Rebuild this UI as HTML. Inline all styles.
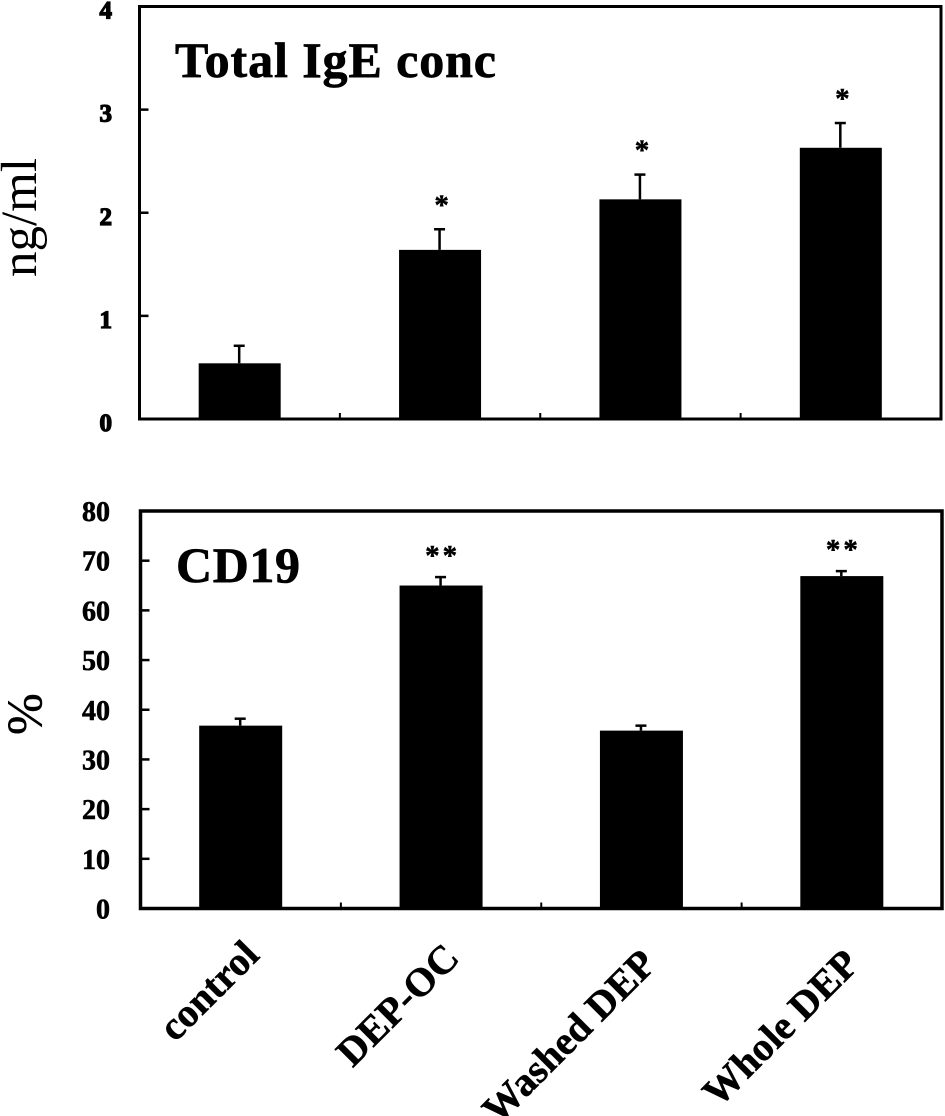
<!DOCTYPE html>
<html lang="en">
<head>
<meta charset="utf-8">
<title>Total IgE and CD19 bar charts</title>
<style>
html,body{margin:0;padding:0;background:#fff;width:945px;height:1116px;overflow:hidden}
svg{display:block}
text{font-family:"Liberation Serif",serif;fill:#000}
.bold{font-weight:700}
</style>
</head>
<body>
<svg id="figure" width="945" height="1116" viewBox="0 0 945 1116" xmlns="http://www.w3.org/2000/svg">
<rect width="945" height="1116" fill="#fff"/>
<text class="bold" x="175" y="77" font-size="50" letter-spacing="0.9" stroke="#000" stroke-width="0.7">Total IgE conc</text>
<text class="bold" x="176" y="582" font-size="50" letter-spacing="0.6" stroke="#000" stroke-width="0.7">CD19</text>
<text x="36" y="277" font-size="51" transform="rotate(-90 36 277)">ng/ml</text>
<text x="41" y="735" font-size="50" stroke="#000" stroke-width="0.5" transform="rotate(-90 41 735)">%</text>
</svg>
<script>
const categories = ['control', 'DEP-OC', 'Washed DEP', 'Whole DEP'];
const igeValues = [0.54, 1.64, 2.13, 2.63];
const igeErrors = [0.17, 0.20, 0.24, 0.24];
const igeMarks = ['', '*', '*', '*'];
const igeTicks = [0, 1, 2, 3, 4];
const cd19Values = [36.8, 65, 35.8, 66.9];
const cd19Errors = [1.4, 1.7, 1.0, 1.0];
const cd19Marks = ['', '**', '', '**'];
const cd19Ticks = [0, 10, 20, 30, 40, 50, 60, 70, 80];

const svg = document.getElementById('figure');
const NS = 'http://www.w3.org/2000/svg';

function make(tag, attrs) {
  const el = document.createElementNS(NS, tag);
  for (const k in attrs) el.setAttribute(k, attrs[k]);
  svg.appendChild(el);
  return el;
}

function drawPanel(p) {
  const yScale = v => p.bottom - (v / p.max) * (p.bottom - p.top);
  const band = (p.right - p.left) / categories.length;
  const xScale = i => p.left + band * (i + 0.5);

  const frame = make('rect', {x: p.left, y: p.top, width: p.right - p.left, height: p.bottom - p.top, fill: 'none', stroke: '#000', 'stroke-width': p.line});
  
  

  p.ticks.forEach(t => {
    if (t !== 0 && t !== p.max) {
      const tick = make('line', {x1: p.left, x2: p.left + 9, y1: yScale(t), y2: yScale(t), stroke: '#000', 'stroke-width': 2.5});
      
      
    }
    const label = make('text', {x: p.labelX, y: yScale(t) + p.labelDy, 'font-size': p.labelSize, 'text-anchor': 'end', 'font-weight': 700, stroke: '#000', 'stroke-width': p.labelStroke});
    label.textContent = t;
    
    
  });

  categories.forEach((c, i) => {
    if (i > 0) {
      const xTick = make('line', {x1: p.left + band * i, x2: p.left + band * i, y1: p.bottom, y2: p.bottom - 6, stroke: '#000', 'stroke-width': 2});
      
      
    }
    const x = xScale(i);
    const top = yScale(p.values[i]);
    const errTop = yScale(p.values[i] + p.errors[i]);

    const stem = make('line', {x1: x - 0.5, x2: x - 0.5, y1: top, y2: errTop, stroke: '#000', 'stroke-width': 2.5});
    
    

    const cap = make('line', {x1: x - 6, x2: x + 5, y1: errTop, y2: errTop, stroke: '#000', 'stroke-width': 2.5});
    
    

    const bar = make('rect', {x: x - p.barWidth / 2, y: top, width: p.barWidth, height: p.bottom - top + 1, fill: '#000'});
    
    

    if (p.marks[i]) {
      const mark = make('text', {x: x + 1.5, y: errTop - p.markOffset, 'font-size': 29, 'font-weight': 700, 'text-anchor': 'middle', stroke: '#000', 'stroke-width': 0.5, 'letter-spacing': p.marks[i].length > 1 ? 3 : 0});
      mark.textContent = p.marks[i];
      
      
    }
  });
}

drawPanel({name: 'ige', left: 139.5, right: 941, top: 6.5, bottom: 419, max: 4, ticks: igeTicks, values: igeValues, errors: igeErrors, marks: igeMarks, line: 3, barWidth: 82, labelX: 112, labelDy: 12, labelSize: 25, labelStroke: 1.3, markOffset: 15});
drawPanel({name: 'cd19', left: 140.5, right: 942, top: 511, bottom: 908.5, max: 80, ticks: cd19Ticks, values: cd19Values, errors: cd19Errors, marks: cd19Marks, line: 3.5, barWidth: 83, labelX: 110, labelDy: 10, labelSize: 28, labelStroke: 0.6, markOffset: 12});

const labelSlots = [[261, 957], [461, 960], [658, 966], [861, 966]];
categories.forEach((c, i) => {
  const at = labelSlots[i];
  const lbl = make('text', {x: at[0], y: at[1], 'font-size': 40, 'font-weight': 700, 'text-anchor': 'end', stroke: '#000', 'stroke-width': 0.5, transform: 'rotate(-45 ' + at[0] + ' ' + at[1] + ')'});
  lbl.textContent = c;
  
  
});
</script>
</body>
</html>
